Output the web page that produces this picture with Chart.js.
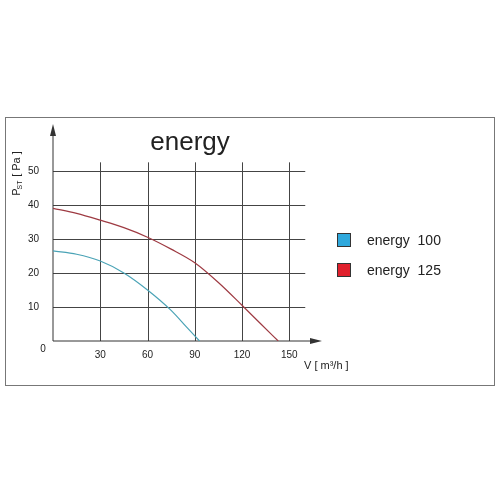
<!DOCTYPE html>
<html><head><script src="https://cdn.jsdelivr.net/npm/chart.js"></script>
<style>body{margin:0;background:#fff}#c{display:block}</style></head>
<body><canvas id="c" width="500" height="500"></canvas>
<script>
const xTicks=[30,60,90,120,150];
const yTicks=[10,20,30,40,50];
const red125=[{x:0,y:39},{x:15,y:37.5},{x:30,y:35.5},{x:45,y:33.3},{x:60,y:30.5},{x:75,y:27},{x:90,y:23},{x:105,y:17.2},{x:120,y:10.5},{x:132,y:5},{x:143,y:0}];
const blue100=[{x:0,y:26.5},{x:15,y:25.5},{x:30,y:23.5},{x:45,y:20},{x:60,y:15},{x:75,y:9},{x:85,y:4},{x:93,y:0}];
const legendLabels=['energy  100','energy  125'];
const legendColors=['#2fa8dc','#e0202c'];
const F='Liberation Sans, Arial, sans-serif';
const deco={id:'deco',beforeDatasetsDraw(ch){const c=ch.ctx,x=ch.scales.x,y=ch.scales.y;c.save();
c.strokeStyle='#777';c.lineWidth=1;c.strokeRect(5.5,117.5,489,268);
c.strokeStyle='#444';c.lineWidth=1;
xTicks.forEach(v=>{const p=Math.round(x.getPixelForValue(v))+.5;c.beginPath();c.moveTo(p,y.getPixelForValue(52.5));c.lineTo(p,y.getPixelForValue(0));c.stroke();});
yTicks.forEach(v=>{const p=Math.round(y.getPixelForValue(v))+.5;c.beginPath();c.moveTo(x.getPixelForValue(0),p);c.lineTo(x.getPixelForValue(150)+16,p);c.stroke();});
const x0=x.getPixelForValue(0),y0=y.getPixelForValue(0);
c.strokeStyle='#333';c.beginPath();c.moveTo(x0,y0);c.lineTo(x0,128);c.moveTo(x0,y0);c.lineTo(318,y0);c.stroke();
c.fillStyle='#333';c.beginPath();c.moveTo(x0,124);c.lineTo(x0-3,136);c.lineTo(x0+3,136);c.fill();
c.beginPath();c.moveTo(322,y0);c.lineTo(310,y0-3);c.lineTo(310,y0+3);c.fill();
c.fillStyle='#222';c.font='26px '+F;c.textAlign='center';c.textBaseline='middle';c.fillText('energy',190,143);
c.font='10px '+F;c.fillText('0',43,349);
c.textAlign='left';c.font='11px '+F;c.fillText('V [ m³/h ]',304,366);
c.save();c.translate(17,166);c.rotate(-Math.PI/2);c.textAlign='center';c.font='11px '+F;c.fillText('P',-26,0);c.font='7px '+F;c.fillText('ST',-19,3);c.font='11px '+F;c.fillText('[ Pa ]',2,0);c.restore();
legendLabels.forEach((t,i)=>{const ly=240+i*30;c.fillStyle=legendColors[i];c.fillRect(337,ly-7,14,14);c.strokeStyle='#333';c.strokeRect(337.5,ly-6.5,13,13);c.fillStyle='#222';c.font='14px '+F;c.textAlign='left';c.fillText(t,367,ly+1);});
c.restore();}};
new Chart(document.getElementById('c'),{type:'scatter',data:{datasets:[
{data:red125,showLine:true,borderColor:'#9e3a42',borderWidth:1.2,pointRadius:0,tension:0.4,cubicInterpolationMode:'monotone'},
{data:blue100,showLine:true,borderColor:'#4aa3b6',borderWidth:1.2,pointRadius:0,tension:0.4,cubicInterpolationMode:'monotone'}]},
options:{responsive:false,animation:false,layout:{padding:{left:0,top:130,right:195,bottom:139}},
plugins:{legend:{display:false},tooltip:{enabled:false}},
scales:{x:{type:'linear',min:0,max:160,grid:{display:false},border:{display:false},afterBuildTicks:a=>{a.ticks=xTicks.map(v=>({value:v}))},afterFit:a=>{a.height=20},ticks:{color:'#222',font:{size:10,family:F},padding:0,maxRotation:0}},
y:{min:0,max:62,grid:{display:false},border:{display:false},afterBuildTicks:a=>{a.ticks=yTicks.map(v=>({value:v}))},afterFit:a=>{a.width=53},ticks:{color:'#222',font:{size:10,family:F},padding:6}}}},
plugins:[deco]});
</script></body></html>
